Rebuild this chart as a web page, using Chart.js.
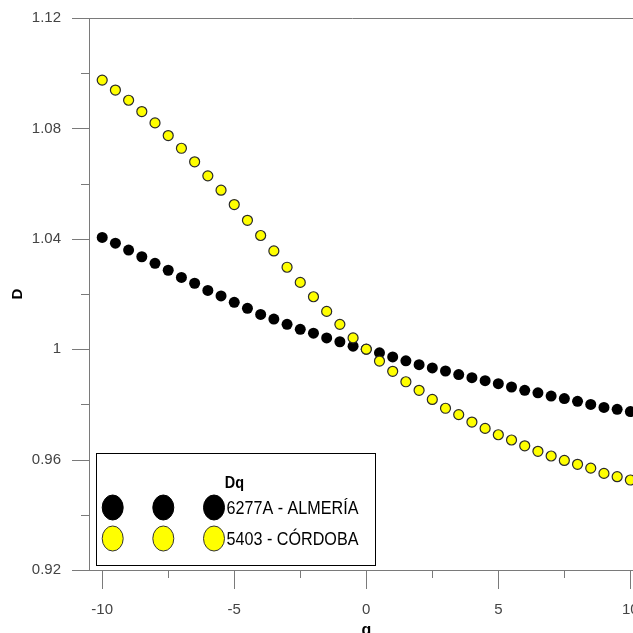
<!DOCTYPE html>
<html>
<head>
<meta charset="utf-8">
<script src="https://cdn.jsdelivr.net/npm/chart.js@4.4.0/dist/chart.umd.min.js"></script>
<style>
  html, body { margin: 0; padding: 0; background: #fff; }
  #wrap { width: 633px; height: 633px; }
</style>
</head>
<body>
<div id="wrap"><canvas id="dq-chart" width="633" height="633"></canvas></div>
<script>
// q values (x axis)
var qValues = [-10, -9.5, -9, -8.5, -8, -7.5, -7, -6.5, -6, -5.5, -5, -4.5, -4, -3.5, -3, -2.5, -2, -1.5, -1, -0.5,
               0, 0.5, 1, 1.5, 2, 2.5, 3, 3.5, 4, 4.5, 5, 5.5, 6, 6.5, 7, 7.5, 8, 8.5, 9, 9.5, 10];

// Dq for 6277A - ALMERÍA (black)
var almeria = [1.0405, 1.0384, 1.0359, 1.0335, 1.0311, 1.0286, 1.0260, 1.0239, 1.0213, 1.0193,
               1.0170, 1.0148, 1.0126, 1.0109, 1.0090, 1.0072, 1.0058, 1.0041, 1.0027, 1.0011,
               1.0000, 0.9987, 0.9972, 0.9958, 0.9944, 0.9932, 0.9921, 0.9908, 0.9897, 0.9886,
               0.9875, 0.9863, 0.9851, 0.9842, 0.9830, 0.9821, 0.9811, 0.9800, 0.9789, 0.9782, 0.9774];

// Dq for 5403 - CÓRDOBA (yellow)
var cordoba = [1.0975, 1.0939, 1.0902, 1.0861, 1.0820, 1.0774, 1.0728, 1.0679, 1.0628, 1.0576,
               1.0524, 1.0467, 1.0412, 1.0356, 1.0297, 1.0242, 1.0190, 1.0137, 1.0090, 1.0041,
               1.0000, 0.9957, 0.9920, 0.9882, 0.9851, 0.9818, 0.9786, 0.9763, 0.9736, 0.9713,
               0.9690, 0.9671, 0.9650, 0.9630, 0.9613, 0.9597, 0.9583, 0.9569, 0.9550, 0.9538, 0.9526];

var seriesNames = ["6277A - ALMERÍA", "5403 - CÓRDOBA"];
var legendTitle = "Dq";

// tick labels
var xTicks = [-10, -5, 0, 5, 10];
var yTicks = [0.92, 0.96, 1, 1.04, 1.08, 1.12];

function toPoints(ys) {
    return qValues.map(function (q, i) { return { x: q, y: ys[i] }; });
}

var axisColor = "#7a7a7a";

// condensed text, the original uses a narrow face
function narrowText(ctx, text, x, y, squeeze) {
    ctx.save();
    ctx.translate(x, y);
    ctx.scale(squeeze, 1);
    ctx.fillText(text, 0, 0);
    ctx.restore();
}

// draws the frame, major/minor ticks, axis titles and the boxed legend
var decorPlugin = {
    id: "decor",
    afterDatasetsDraw: function (chart) {
        var ctx = chart.ctx;
        var area = chart.chartArea;
        var xs = chart.scales.x, ys = chart.scales.y;
        ctx.save();
        ctx.strokeStyle = axisColor;
        ctx.lineWidth = 1;
        ctx.beginPath();
        // left axis, bottom axis, top frame
        ctx.moveTo(area.left + 0.5, area.top);
        ctx.lineTo(area.left + 0.5, area.bottom);
        ctx.moveTo(area.left, area.bottom + 0.5);
        ctx.lineTo(area.right, area.bottom + 0.5);
        ctx.moveTo(area.left - 17, area.top + 0.5);
        ctx.lineTo(area.right, area.top + 0.5);
        // y ticks
        for (var i = 0; i < yTicks.length; i++) {
            var py = Math.round(ys.getPixelForValue(yTicks[i])) + 0.5;
            ctx.moveTo(area.left - 17, py);
            ctx.lineTo(area.left, py);
            if (i < yTicks.length - 1) {
                var pm = Math.round(ys.getPixelForValue((yTicks[i] + yTicks[i + 1]) / 2)) + 0.5;
                ctx.moveTo(area.left - 8, pm);
                ctx.lineTo(area.left, pm);
            }
        }
        // x ticks
        for (var j = 0; j < xTicks.length; j++) {
            var px = Math.round(xs.getPixelForValue(xTicks[j])) + 0.5;
            ctx.moveTo(px, area.bottom);
            ctx.lineTo(px, area.bottom + 19);
            if (j < xTicks.length - 1) {
                var mx = Math.round(xs.getPixelForValue((xTicks[j] + xTicks[j + 1]) / 2)) + 0.5;
                ctx.moveTo(mx, area.bottom);
                ctx.lineTo(mx, area.bottom + 8);
            }
        }
        ctx.stroke();

        // axis titles
        ctx.fillStyle = "#000";
        ctx.font = "bold 16px 'Liberation Sans', Arial, sans-serif";
        ctx.textAlign = "center";
        ctx.textBaseline = "alphabetic";
        ctx.fillText("q", xs.getPixelForValue(0), 635);
        ctx.save();
        ctx.translate(18, (area.top + area.bottom) / 2);
        ctx.rotate(-Math.PI / 2);
        ctx.textBaseline = "middle";
        ctx.font = "bold 15px 'Liberation Sans', Arial, sans-serif";
        ctx.fillText("D", 0, 0);
        ctx.restore();

        // legend box
        var bx = 96.5, by = 453.5, bw = 279, bh = 112;
        ctx.fillStyle = "#fff";
        ctx.fillRect(bx, by, bw, bh);
        ctx.strokeStyle = "#000";
        ctx.strokeRect(bx, by, bw, bh);

        ctx.fillStyle = "#000";
        ctx.font = "bold 17px 'Liberation Sans', Arial, sans-serif";
        ctx.textAlign = "center";
        ctx.textBaseline = "middle";
        narrowText(ctx, legendTitle, 234.5, 483, 0.85);

        var rows = [
            { y: 507.5, fill: "#000000", stroke: "#000000" },
            { y: 538.5, fill: "#ffff00", stroke: "#333333" }
        ];
        var mxs = [112.7, 163.3, 214];
        rows.forEach(function (r, k) {
            mxs.forEach(function (cx) {
                ctx.beginPath();
                ctx.ellipse(cx, r.y, 10.5, 12.5, 0, 0, Math.PI * 2);
                ctx.fillStyle = r.fill;
                ctx.fill();
                ctx.lineWidth = 1;
                ctx.strokeStyle = r.stroke;
                ctx.stroke();
            });
            ctx.fillStyle = "#000";
            ctx.font = "19px 'Liberation Sans', Arial, sans-serif";
            ctx.textAlign = "left";
            ctx.textBaseline = "middle";
            narrowText(ctx, seriesNames[k], 226.5, r.y + 1, 0.85);
        });
        ctx.restore();
    }
};

var ctx = document.getElementById("dq-chart");

var chart = new Chart(ctx, {
    type: "scatter",
    data: {
        datasets: [
            {
                label: seriesNames[0],
                data: toPoints(almeria),
                backgroundColor: "#000000",
                borderColor: "#000000",
                borderWidth: 0,
                pointRadius: 5.5,
                order: 2
            },
            {
                label: seriesNames[1],
                data: toPoints(cordoba),
                backgroundColor: "#ffff00",
                borderColor: "#2a2a2a",
                borderWidth: 1.2,
                pointRadius: 5,
                order: 1
            }
        ]
    },
    options: {
        responsive: false,
        animation: false,
        layout: { autoPadding: false, padding: { top: 18, left: 0, right: 0, bottom: 0 } },
        plugins: {
            legend: { display: false },
            tooltip: { enabled: false },
            title: { display: false }
        },
        scales: {
            x: {
                type: "linear",
                min: -10.5,
                max: 10.1,
                grid: { display: false },
                border: { display: false },
                afterBuildTicks: function (scale) {
                    scale.ticks = xTicks.map(function (v) { return { value: v }; });
                },
                afterFit: function (scale) {
                    scale.height = 63;
                    scale.paddingLeft = 0;
                    scale.paddingRight = 0;
                },
                ticks: {
                    padding: 23,
                    maxRotation: 0,
                    autoSkip: false,
                    color: "#444",
                    font: { family: "'Liberation Sans', Arial, sans-serif", size: 15 },
                    callback: function (v) { return String(v); }
                }
            },
            y: {
                type: "linear",
                min: 0.92,
                max: 1.12,
                grid: { display: false },
                border: { display: false },
                afterBuildTicks: function (scale) {
                    scale.ticks = yTicks.map(function (v) { return { value: v }; });
                },
                afterFit: function (scale) {
                    scale.width = 89;
                    scale.paddingTop = 0;
                    scale.paddingBottom = 0;
                },
                ticks: {
                    padding: 20,
                    autoSkip: false,
                    color: "#444",
                    font: { family: "'Liberation Sans', Arial, sans-serif", size: 15 },
                    callback: function (v) { return String(parseFloat(v.toFixed(2))); }
                }
            }
        }
    },
    plugins: [decorPlugin]
});
</script>
</body>
</html>
